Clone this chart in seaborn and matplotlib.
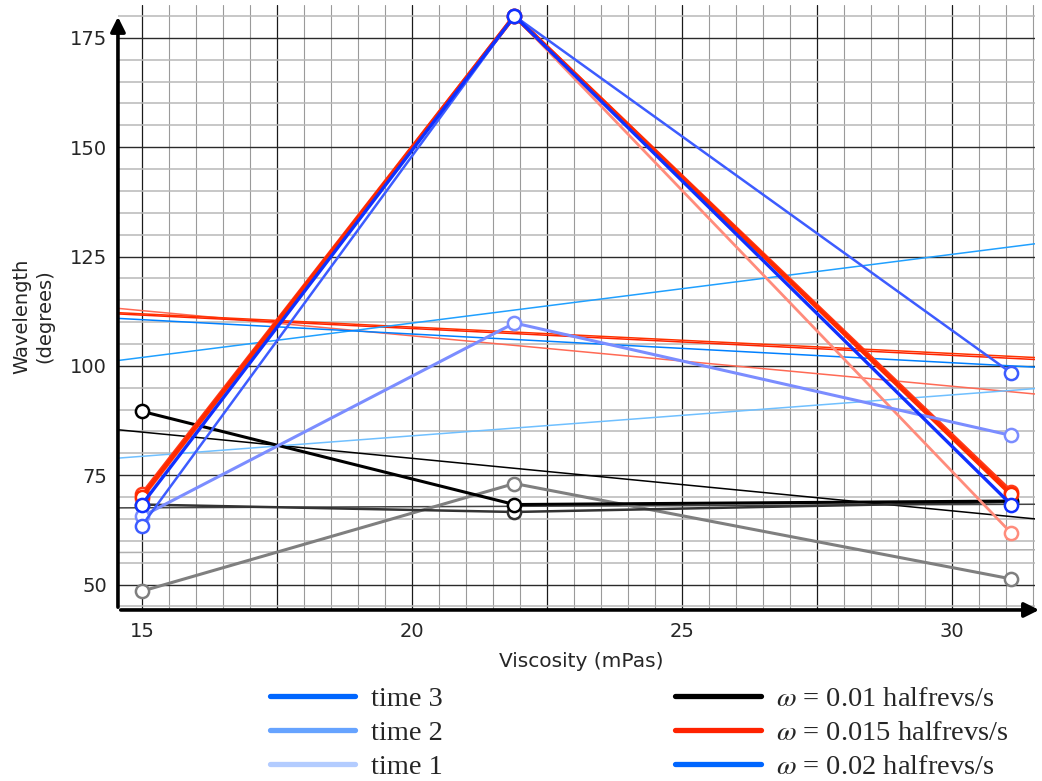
import numpy as np
import matplotlib
matplotlib.use("Agg")
import matplotlib.pyplot as plt
import seaborn as sns
from matplotlib.lines import Line2D
from matplotlib.ticker import MultipleLocator, FuncFormatter

# viscosity positions of the three fluids
viscosity = [15.0, 21.9, 31.1]

# wavelength (degrees) per rotation speed and time step
black_t3 = [89.6, 68.3, 69.1]
black_t2 = [68.3, 66.6, 68.9]
black_t1 = [48.5, 73.1, 51.3]
red_t3 = [70.1, 180.0, 70.6]
red_t2 = [70.6, 180.0, 71.2]
red_t1 = [69.6, 180.0, 61.8]
blue_t3 = [68.3, 180.0, 68.3]
blue_t2 = [63.5, 180.0, 98.4]
blue_t1 = [65.6, 109.8, 84.1]

time_labels = ["time 3", "time 2", "time 1"]
omega_labels = [r"$\omega$ = 0.01 halfrevs/s", r"$\omega$ = 0.015 halfrevs/s", r"$\omega$ = 0.02 halfrevs/s"]

# (values, line colour, line width, fit colour)
series = [
    (black_t1, "#7f7f7f", 2.2, "#b0b0b0"),
    (black_t2, "#333333", 1.8, "#444444"),
    (black_t3, "#000000", 2.2, "#000000"),
    (red_t1, "#ff8c7c", 2.0, "#ff6a55"),
    (red_t2, "#ff3b1a", 3.0, "#ff3300"),
    (red_t3, "#ff2a00", 3.0, "#ff2200"),
    (blue_t1, "#7b8dff", 2.2, "#70c0ff"),
    (blue_t2, "#3d5cff", 1.8, "#20a0ff"),
    (blue_t3, "#1030ff", 2.4, "#0080ff"),
]

sns.set_style("white")
plt.rcParams["font.family"] = ["DejaVu Sans"]
plt.rcParams["mathtext.fontset"] = "stix"

fig = plt.figure(figsize=(10.42, 7.81), dpi=100)
ax = fig.add_axes([0.1132, 0.219, 0.880, 0.7746])
ax.set_xlim(14.556, 31.54)
ax.set_ylim(44.2, 182.5)

# graph-paper grid
ax.xaxis.set_major_locator(MultipleLocator(2.5))
ax.xaxis.set_minor_locator(MultipleLocator(0.5))
ax.yaxis.set_major_locator(MultipleLocator(25))
ax.yaxis.set_minor_locator(MultipleLocator(5))
ax.xaxis.set_major_formatter(FuncFormatter(lambda v, p: f"{v:g}" if v % 5 == 0 else ""))
ax.grid(which="major", axis="x", color="#1a1a1a", lw=0.9)
ax.grid(which="minor", axis="x", color="#9a9a9a", lw=0.8)
ax.grid(which="major", axis="y", color="#2a2a2a", lw=1.0)
ax.grid(which="minor", axis="y", color="#b8b8b8", lw=1.1)
ax.set_axisbelow(True)
ax.tick_params(which="both", length=0, labelsize=14)
ax.tick_params(axis="x", pad=9)
ax.tick_params(axis="y", pad=8)

x = np.array(viscosity)

# linear fits across the whole axis
for vals, col, lw, fit_col in series:
    sns.regplot(x=x, y=np.array(vals), ax=ax, scatter=False, ci=None, truncate=False,
                line_kws=dict(color=fit_col, lw=1.1, zorder=2))

for vals, col, lw, fit_col in series:
    sns.lineplot(x=x, y=vals, ax=ax, color=col, lw=lw, marker="o", markersize=9.5,
                 markerfacecolor="white", markeredgecolor=col, markeredgewidth=1.8, zorder=3)

ax.set_xlim(14.556, 31.54)
ax.set_ylim(44.2, 182.5)

for s in ax.spines.values():
    s.set_visible(False)
ax.annotate("", xy=(0, 0.985), xytext=(0, 0), xycoords="axes fraction",
            arrowprops=dict(arrowstyle="-|>", lw=2.6, color="black", mutation_scale=22),
            annotation_clip=False)
ax.annotate("", xy=(1.0076, 0), xytext=(0, 0), xycoords="axes fraction",
            arrowprops=dict(arrowstyle="-|>", lw=2.6, color="black", mutation_scale=22),
            annotation_clip=False)

ax.set_xlabel("Viscosity (mPas)", fontsize=14.5)
ax.set_ylabel("Wavelength\n(degrees)", fontsize=14, linespacing=1.3)
ax.xaxis.set_label_coords(0.505, -0.07)
ax.yaxis.set_label_coords(-0.069, 0.485)

time_colors = ["#0066ff", "#66a3ff", "#b3ccff"]
omega_colors = ["#000000", "#ff2200", "#0066ff"]
serif = {"family": "Liberation Serif", "size": 20.5}
h1 = [Line2D([], [], color=c, lw=3.8) for c in time_colors]
h2 = [Line2D([], [], color=c, lw=3.8) for c in omega_colors]
fig.legend(h1, time_labels, loc="upper left", bbox_to_anchor=(0.259, 0.121),
           frameon=False, prop=serif, handlelength=3.0, handletextpad=0.55,
           labelspacing=0.28, borderpad=0, borderaxespad=0)
fig.legend(h2, omega_labels, loc="upper left", bbox_to_anchor=(0.648, 0.121),
           frameon=False, prop=serif, handlelength=3.0, handletextpad=0.55,
           labelspacing=0.28, borderpad=0, borderaxespad=0)

fig.savefig("out.png", dpi=100)
